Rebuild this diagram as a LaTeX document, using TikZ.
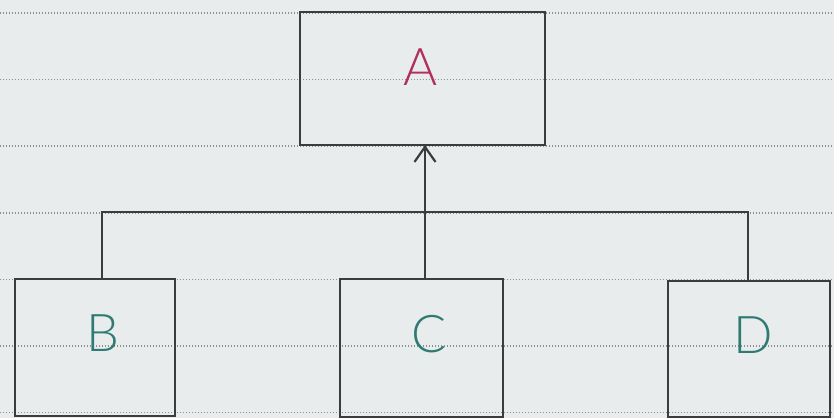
\documentclass[tikz,border=0pt]{standalone}
\usepackage{fontspec}
\newfontfamily\handfont{Lato Light}
\usetikzlibrary{arrows.meta}
\definecolor{paper}{HTML}{E8ECED}
\definecolor{rule}{HTML}{8C8F92}
\definecolor{ink}{HTML}{3A3C3E}
\definecolor{redink}{HTML}{B0305A}
\definecolor{tealink}{HTML}{2F7A72}
\tikzset{
  box/.style={draw=ink, line width=2.2pt, inner sep=0pt, outer sep=0pt, fill=none},
  lbl/.style={font=\handfont\fontsize{52}{52}\selectfont},
  redlbl/.style={lbl, text=redink},
  teallbl/.style={lbl, text=tealink},
  conn/.style={draw=ink, line width=2.2pt},
  ruling/.style={draw=rule, line width=1.6pt, dash pattern=on 1.4pt off 1.6pt}
}
\begin{document}
\begin{tikzpicture}[x=1pt,y=-1pt]
\fill[paper] (0,0) rectangle (834,418);
\useasboundingbox (0,0) rectangle (834,418);
\foreach \k in {0,...,6}{
  \draw[ruling] (0,{13+66.6*\k}) -- (834,{13+66.6*\k});
}
\node[box, minimum width=245pt, minimum height=133pt,
      label={[redlbl, yshift=11pt, xshift=-2pt]center:A}] (A) at (422.5,78.5) {};
\node[box, minimum width=160pt, minimum height=137pt,
      label={[teallbl, yshift=14pt, xshift=8pt]center:B}] (B) at (95,347.5) {};
\node[box, minimum width=163pt, minimum height=138pt,
      label={[teallbl, yshift=14pt, xshift=8pt]center:C}] (C) at (421.5,348) {};
\node[box, minimum width=162pt, minimum height=136pt,
      label={[teallbl, yshift=14pt, xshift=4pt]center:D}] (D) at (749,349) {};
\coordinate (cB) at (102,279);
\coordinate (cC) at (425,279);
\coordinate (cD) at (748,281);
\coordinate (bar) at (425,212);
\draw[conn] (cB) -- (cB |- bar) -- (cD |- bar) -- (cD);
\draw[conn, -{Straight Barb[length=15pt, width=21pt, line width=2.2pt]}] (cC) -- (cC |- A.south);
\end{tikzpicture}
\end{document}
